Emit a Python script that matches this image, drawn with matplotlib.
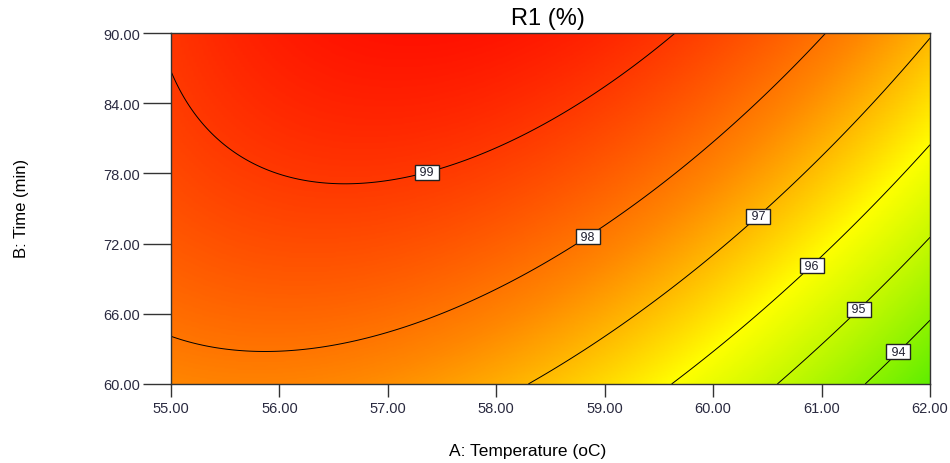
import numpy as np
import matplotlib
matplotlib.use("Agg")
import matplotlib.pyplot as plt
from matplotlib.colors import LinearSegmentedColormap

plt.rcParams['font.family'] = ['Liberation Sans', 'DejaVu Sans']

# quadratic model in coded units
# terms: const, A, B, AB, A^2, B^2
coef = [98.40, -1.642, 1.307, 0.633, -1.434, -0.221]
A_range = [55.0, 62.0]
B_range = [60.0, 90.0]
levels = [94, 95, 96, 97, 98, 99]
label_pos = [(61.66, 63.2), (61.32, 66.6), (60.89, 70.3),
             (60.40, 74.5), (58.84, 72.65), (57.36, 78.1)]
xticks = [55, 56, 57, 58, 59, 60, 61, 62]
yticks = [60, 66, 72, 78, 84, 90]

A = np.linspace(A_range[0], A_range[1], 300)
B = np.linspace(B_range[0], B_range[1], 300)
AA, BB = np.meshgrid(A, B)
a = (AA - 58.5) / 3.5
b = (BB - 75.0) / 15.0
Z = coef[0] + coef[1]*a + coef[2]*b + coef[3]*a*b + coef[4]*a**2 + coef[5]*b**2

vmin, vmax = 92.6, 99.7
def pos(v):
    return (v - vmin) / (vmax - vmin)
cmap = LinearSegmentedColormap.from_list("dx", [
    (0.0, (0.25, 0.92, 0.0)),
    (pos(96.0), (1.0, 1.0, 0.0)),
    (pos(97.7), (1.0, 0.53, 0.0)),
    (1.0, (1.0, 0.06, 0.0)),
])

fig = plt.figure(figsize=(9.5, 4.64), dpi=100)
ax = fig.add_axes([0.18, 0.1703, 0.799, 0.7564])
ax.imshow(Z, extent=[A_range[0], A_range[1], B_range[0], B_range[1]],
          origin='lower', aspect='auto', cmap=cmap, vmin=vmin, vmax=vmax,
          interpolation='bilinear')
cs = ax.contour(AA, BB, Z, levels, colors='k', linewidths=0.7)
txts = ax.clabel(cs, fmt=' %d ', manual=label_pos, inline=False, fontsize=9)
for t in txts:
    t.set_rotation(0)
    t.set_color('#202030')
    t.set_bbox(dict(boxstyle='square,pad=0.12', facecolor='white',
                    edgecolor='#222222', linewidth=1))

ax.set_xlim(A_range)
ax.set_ylim(B_range)
ax.set_xticks(xticks)
ax.set_xticklabels([f"{v:.2f}" for v in xticks])
ax.set_yticks(yticks)
ax.set_yticklabels([f"{v:.2f}" for v in yticks])
ax.tick_params(axis='y', length=20, width=1, color='#333333', labelsize=10.5,
               labelcolor='#2a2a40', pad=2)
ax.tick_params(axis='x', length=9, width=1, color='#333333', labelsize=10.5,
               labelcolor='#2a2a40', pad=3)
for s in ax.spines.values():
    s.set_color('#333333')
    s.set_linewidth(1)

fig.text(548/950, 1 - 19/464, "R1 (%)", ha='center', va='center', fontsize=17)
fig.text(528/950, 1 - 452/464, "A: Temperature (oC)", ha='center', va='center', fontsize=12.5)
fig.text(22/950, 1 - 208/464, "B: Time (min)", ha='center', va='center',
         fontsize=12, rotation=90)

fig.savefig("out.png")
